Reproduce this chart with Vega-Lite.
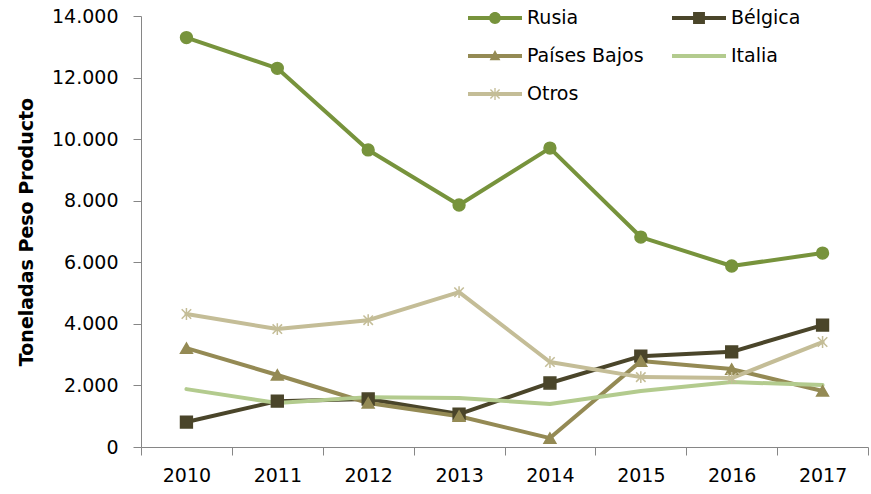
{
  "$schema": "https://vega.github.io/schema/vega-lite/v6.json",
  "width": 727,
  "height": 431,
  "autosize": {"type": "none"},
  "padding": {"left": 141, "top": 16, "right": 3, "bottom": 47},
  "background": "white",
  "config": {
    "locale": {"number": {"decimal": ",", "thousands": ".", "grouping": [3], "currency": ["", " €"]}},
    "view": {"stroke": null},
    "font": "DejaVu Sans",
    "axis": {
      "grid": false,
      "domainColor": "#868686",
      "tickColor": "#868686",
      "domainWidth": 1,
      "tickWidth": 1,
      "tickSize": 8,
      "labelFont": "DejaVu Sans",
      "labelFontSize": 19,
      "labelColor": "#000000",
      "titleFont": "DejaVu Sans",
      "titleColor": "#000000"
    },
    "legend": {
      "labelFont": "DejaVu Sans",
      "labelFontSize": 19,
      "labelColor": "#000000"
    }
  },
  "data": {
    "values": [
      {"pais": "Rusia", "anio": 2010, "t": 13300},
      {"pais": "Rusia", "anio": 2011, "t": 12300},
      {"pais": "Rusia", "anio": 2012, "t": 9650},
      {"pais": "Rusia", "anio": 2013, "t": 7860},
      {"pais": "Rusia", "anio": 2014, "t": 9710},
      {"pais": "Rusia", "anio": 2015, "t": 6820},
      {"pais": "Rusia", "anio": 2016, "t": 5880},
      {"pais": "Rusia", "anio": 2017, "t": 6300},
      {"pais": "Bélgica", "anio": 2010, "t": 810},
      {"pais": "Bélgica", "anio": 2011, "t": 1490},
      {"pais": "Bélgica", "anio": 2012, "t": 1560},
      {"pais": "Bélgica", "anio": 2013, "t": 1070},
      {"pais": "Bélgica", "anio": 2014, "t": 2080},
      {"pais": "Bélgica", "anio": 2015, "t": 2950},
      {"pais": "Bélgica", "anio": 2016, "t": 3090},
      {"pais": "Bélgica", "anio": 2017, "t": 3960},
      {"pais": "Países Bajos", "anio": 2010, "t": 3210},
      {"pais": "Países Bajos", "anio": 2011, "t": 2340},
      {"pais": "Países Bajos", "anio": 2012, "t": 1430},
      {"pais": "Países Bajos", "anio": 2013, "t": 1000},
      {"pais": "Países Bajos", "anio": 2014, "t": 290},
      {"pais": "Países Bajos", "anio": 2015, "t": 2790},
      {"pais": "Países Bajos", "anio": 2016, "t": 2530},
      {"pais": "Países Bajos", "anio": 2017, "t": 1820},
      {"pais": "Italia", "anio": 2010, "t": 1880},
      {"pais": "Italia", "anio": 2011, "t": 1430},
      {"pais": "Italia", "anio": 2012, "t": 1620},
      {"pais": "Italia", "anio": 2013, "t": 1590},
      {"pais": "Italia", "anio": 2014, "t": 1400},
      {"pais": "Italia", "anio": 2015, "t": 1820},
      {"pais": "Italia", "anio": 2016, "t": 2110},
      {"pais": "Italia", "anio": 2017, "t": 2010},
      {"pais": "Otros", "anio": 2010, "t": 4320},
      {"pais": "Otros", "anio": 2011, "t": 3830},
      {"pais": "Otros", "anio": 2012, "t": 4120},
      {"pais": "Otros", "anio": 2013, "t": 5030},
      {"pais": "Otros", "anio": 2014, "t": 2760},
      {"pais": "Otros", "anio": 2015, "t": 2270},
      {"pais": "Otros", "anio": 2016, "t": 2240},
      {"pais": "Otros", "anio": 2017, "t": 3410}
    ]
  },
  "encoding": {
    "x": {
      "field": "anio",
      "type": "quantitative",
      "scale": {"domain": [2009.5, 2017.5], "nice": false, "zero": false},
      "axis": {
        "title": null,
        "values": [2009.5, 2010, 2010.5, 2011, 2011.5, 2012, 2012.5, 2013, 2013.5, 2014, 2014.5, 2015, 2015.5, 2016, 2016.5, 2017, 2017.5],
        "labelExpr": "datum.value % 1 === 0 ? format(datum.value, 'd') : ''",
        "tickOpacity": {"condition": {"test": "datum.value % 1 === 0", "value": 0}, "value": 1},
        "labelOverlap": false,
        "labelPadding": 11
      }
    },
    "y": {
      "field": "t",
      "type": "quantitative",
      "scale": {"domain": [0, 14000], "nice": false},
      "axis": {
        "title": "Toneladas  Peso Producto",
        "titleFontSize": 19,
        "titleFontWeight": "bold",
        "titlePadding": 15,
        "values": [0, 2000, 4000, 6000, 8000, 10000, 12000, 14000],
        "format": ",d",
        "labelPadding": 15
      }
    }
  },
  "layer": [
    {
      "mark": {"type": "line", "strokeWidth": 4, "strokeCap": "round", "strokeJoin": "round"},
      "encoding": {
        "color": {
          "field": "pais",
          "type": "nominal",
          "scale": {"domain": ["Rusia", "Bélgica", "Países Bajos", "Italia", "Otros"], "range": ["#77933C", "#4A452A", "#948A54", "#B3CB8E", "#C4BD97"]},
          "legend": null
        }
      }
    },
    {
      "transform": [{"filter": "datum.pais !== 'Italia'"}],
      "mark": {"type": "point", "filled": true, "size": 140, "strokeWidth": 1.5, "opacity": 1},
      "encoding": {
        "color": {
          "field": "pais",
          "type": "nominal",
          "scale": {"domain": ["Rusia", "Bélgica", "Países Bajos", "Italia", "Otros"], "range": ["#77933C", "#4A452A", "#948A54", "#B3CB8E", "#C4BD97"]},
          "legend": null
        },
        "stroke": {
          "field": "pais",
          "type": "nominal",
          "scale": {"domain": ["Rusia", "Bélgica", "Países Bajos", "Italia", "Otros"], "range": ["#77933C", "#4A452A", "#948A54", "#B3CB8E", "#C4BD97"]},
          "legend": null
        },
        "shape": {
          "field": "pais",
          "type": "nominal",
          "scale": {"domain": ["Rusia", "Bélgica", "Países Bajos", "Italia", "Otros"], "range": ["circle", "square", "triangle-up", "circle", "M0,-1L0,1M-0.8,-0.8L0.8,0.8M-0.8,0.8L0.8,-0.8"]},
          "legend": null
        }
      }
    },
    {
      "transform": [{"filter": "false"}],
      "mark": {"type": "point", "filled": true, "opacity": 1},
      "encoding": {
        "color": {
          "field": "pais",
          "type": "nominal",
          "scale": {"domain": ["Rusia", "Bélgica", "Países Bajos", "Italia", "Otros"], "range": ["#77933C", "#4A452A", "#948A54", "#B3CB8E", "#C4BD97"]},
          "legend": {
            "title": null,
            "orient": "none",
            "direction": "horizontal",
            "legendX": 327,
            "legendY": -25,
            "columns": 2,
            "columnPadding": 28,
            "rowPadding": 1,
            "padding": 0,
            "symbolSize": 2916,
            "symbolStrokeWidth": 0,
            "symbolOpacity": 1,
            "labelOffset": 5,
            "labelFontSize": 19,
            "labelLimit": 300
          }
        },
        "shape": {
          "field": "pais",
          "type": "nominal",
          "scale": {"domain": ["Rusia", "Bélgica", "Países Bajos", "Italia", "Otros"], "range": [
            "M-1,-0.075L1,-0.075L1,0.075L-1,0.075ZM0.22,0A0.22,0.22,0,1,1,-0.22,0A0.22,0.22,0,1,1,0.22,0Z",
            "M-1,-0.075L1,-0.075L1,0.075L-1,0.075ZM-0.22,-0.22L0.22,-0.22L0.22,0.22L-0.22,0.22Z",
            "M-1,-0.075L1,-0.075L1,0.075L-1,0.075ZM0,-0.22L0.2,0.16L-0.2,0.16Z",
            "M-1,-0.075L1,-0.075L1,0.075L-1,0.075Z",
            "M-1,-0.075L1,-0.075L1,0.075L-1,0.075ZM-0.025,-0.22L0.025,-0.22L0.025,0.22L-0.025,0.22ZM-0.152,-0.188L0.188,0.152L0.152,0.188L-0.188,-0.152ZM0.152,-0.188L0.188,-0.152L-0.152,0.188L-0.188,0.152Z"
          ]}
        }
      }
    }
  ],
  "resolve": {"scale": {"color": "independent", "stroke": "independent", "shape": "independent"}}
}
